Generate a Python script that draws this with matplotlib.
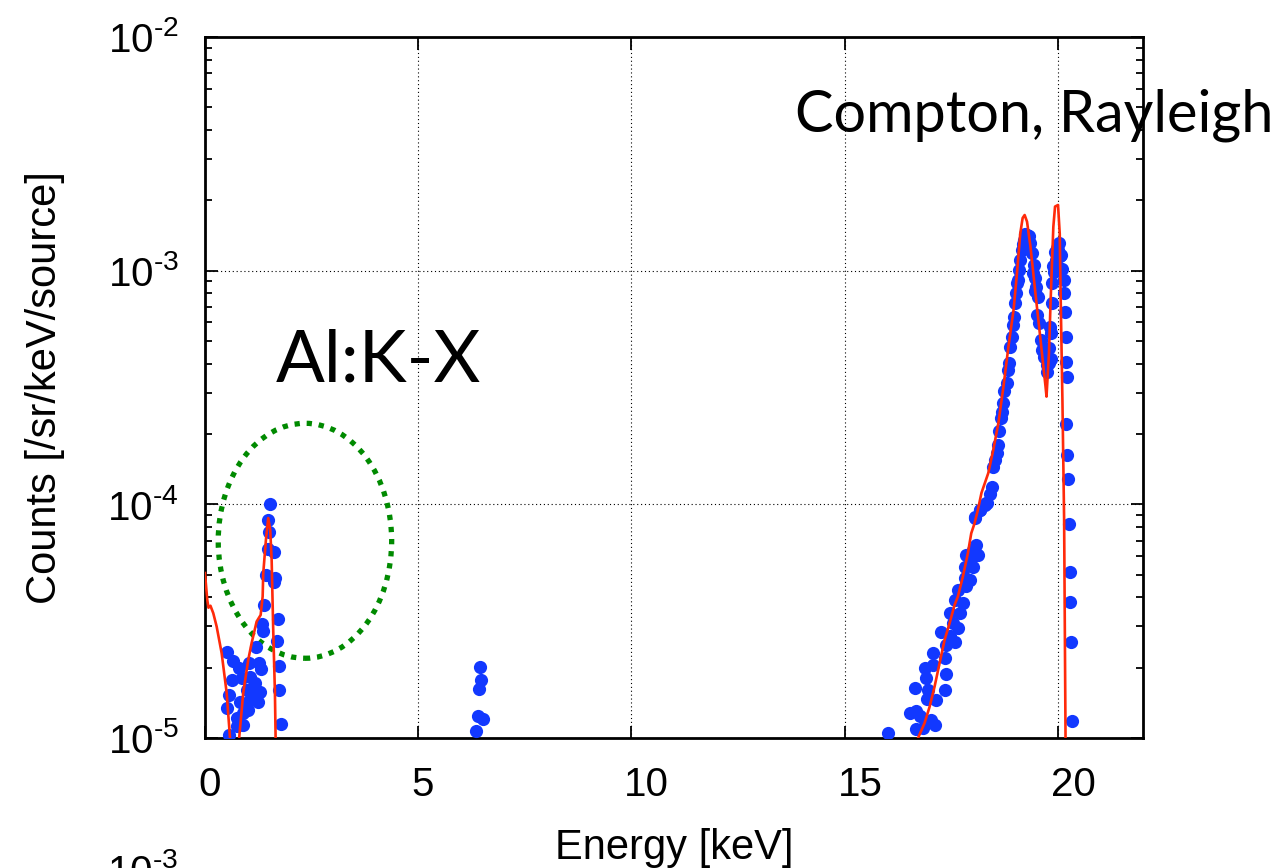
import numpy as np
import matplotlib
matplotlib.use('Agg')
import matplotlib.pyplot as plt
from matplotlib.patches import Ellipse
from matplotlib.transforms import ScaledTranslation

plt.rcParams['font.family'] = ['Liberation Sans', 'DejaVu Sans']
plt.rcParams['mathtext.fontset'] = 'custom'
plt.rcParams['mathtext.rm'] = 'Liberation Sans'
plt.rcParams['mathtext.it'] = 'Liberation Sans'
plt.rcParams['mathtext.default'] = 'regular'

# measured spectrum (blue points)
energy_pts = [
    1.524, 1.484, 1.500, 1.470, 1.617, 1.423, 1.641, 1.617, 1.390, 1.704,
    1.336, 1.367, 1.681, 1.188, 0.509, 0.663, 0.804, 1.038, 1.273, 1.306,
    1.735, 0.640, 0.860, 1.055, 1.172, 1.742, 0.570, 0.977, 1.212, 1.289,
    0.523, 0.820, 1.055, 1.249, 0.898, 1.015, 0.743, 0.898, 0.570, 0.743,
    1.782,
    6.446, 6.470, 6.430, 6.406, 6.524, 6.353,
    16.03, 16.526, 16.683, 16.760, 16.683, 16.838, 17.112, 17.035, 16.660,
    16.955, 16.931, 17.152, 17.347, 16.878, 16.917, 17.072, 17.386, 17.072,
    17.347, 17.269, 17.464, 17.658, 17.386, 17.581, 17.464, 17.698, 17.541,
    17.581, 17.776, 17.658, 17.855, 17.815, 17.932, 17.815, 18.010, 17.932,
    17.855, 18.090, 18.010, 18.127, 18.050, 18.167, 18.284, 18.324, 18.055,
    18.172, 18.331,
    18.411, 18.448, 18.488, 18.528, 18.568, 18.607, 18.631, 18.664, 18.687,
    18.727, 18.751, 18.804, 18.844, 18.868, 18.884, 18.924, 18.947, 18.964,
    19.004, 19.027, 19.044, 19.058, 19.081, 19.121, 19.161, 19.201, 19.240,
    19.280, 19.320, 19.360, 19.398, 19.438, 19.477, 19.501, 19.534, 19.517,
    19.557, 19.597, 19.637, 19.674, 19.737, 19.794, 19.794, 19.834, 19.817,
    19.857, 19.873, 19.913, 19.953, 19.991, 20.030, 20.070, 20.110, 20.150,
    20.150, 20.166, 20.190, 20.190, 20.213, 20.200, 20.213, 20.237, 20.253,
    20.277, 20.293, 20.316, 20.340,
    19.180, 19.260, 19.300, 19.420, 19.460, 19.880, 19.930, 20.010, 20.060,
    19.760, 19.840,
]
counts_pts = [
    1.00e-4, 8.57e-5, 7.64e-5, 6.43e-5, 6.28e-5, 4.99e-5, 4.83e-5, 4.67e-5, 3.69e-5, 3.22e-5,
    3.08e-5, 2.88e-5, 2.61e-5, 2.45e-5, 2.34e-5, 2.14e-5, 2.00e-5, 2.09e-5, 2.09e-5, 1.97e-5,
    2.04e-5, 1.77e-5, 1.80e-5, 1.83e-5, 1.72e-5, 1.61e-5, 1.53e-5, 1.61e-5, 1.56e-5, 1.58e-5,
    1.35e-5, 1.43e-5, 1.46e-5, 1.43e-5, 1.28e-5, 1.32e-5, 1.22e-5, 1.14e-5, 1.03e-5, 1.12e-5,
    1.15e-5,
    2.02e-5, 1.77e-5, 1.62e-5, 1.24e-5, 1.21e-5, 1.07e-5,
    1.05e-5, 1.28e-5, 1.30e-5, 1.24e-5, 1.09e-5, 1.10e-5, 1.14e-5, 1.19e-5, 1.63e-5,
    1.61e-5, 1.47e-5, 1.46e-5, 1.61e-5, 1.99e-5, 1.80e-5, 2.06e-5, 1.88e-5, 2.31e-5,
    2.20e-5, 2.85e-5, 2.72e-5, 2.95e-5, 2.50e-5, 2.58e-5, 3.42e-5, 3.42e-5, 3.10e-5,
    3.90e-5, 3.78e-5, 4.31e-5, 4.45e-5, 4.83e-5, 4.75e-5, 5.41e-5, 5.41e-5, 5.78e-5,
    6.07e-5, 6.70e-5, 6.38e-5, 6.07e-5, 8.73e-5, 9.47e-5, 9.93e-5, 1.01e-4, 8.85e-5,
    9.46e-5, 1.01e-4,
    1.11e-4, 1.19e-4, 1.45e-4, 1.55e-4, 1.65e-4, 1.80e-4, 2.05e-4, 2.34e-4, 2.49e-4,
    2.71e-4, 3.04e-4, 3.30e-4, 3.76e-4, 4.02e-4, 4.73e-4, 5.22e-4, 5.86e-4, 6.36e-4,
    7.25e-4, 8.00e-4, 8.83e-4, 9.12e-4, 1.01e-3, 1.11e-3, 1.23e-3, 1.35e-3, 1.44e-3,
    1.42e-3, 1.40e-3, 1.31e-3, 1.19e-3, 1.06e-3, 9.27e-4, 8.55e-4, 7.74e-4, 6.46e-4,
    5.95e-4, 5.05e-4, 4.58e-4, 4.29e-4, 3.95e-4, 4.02e-4, 4.66e-4, 5.40e-4, 5.76e-4,
    7.26e-4, 8.83e-4, 9.91e-4, 1.11e-3, 1.25e-3, 1.31e-3, 1.17e-3, 1.02e-3, 9.12e-4,
    8.00e-4, 6.68e-4, 5.22e-4, 4.08e-4, 3.52e-4, 2.21e-4, 1.62e-4, 1.28e-4, 8.26e-5,
    5.13e-5, 3.80e-5, 2.58e-5, 1.18e-5,
    1.30e-3, 1.38e-3, 1.30e-3, 9.80e-4, 8.20e-4, 1.05e-3, 1.20e-3, 1.22e-3, 1.15e-3,
    3.70e-4, 4.20e-4,
]

# simulation (red line)
energy_sim = [
    0.0, 0.054, 0.082, 0.129, 0.195, 0.274, 0.391, 0.509, 0.586, 0.633,
    0.700, 0.774, 0.804, 0.898, 1.015, 1.095, 1.212, 1.306, 1.353, 1.367,
    1.430, 1.484, 1.531, 1.564, 1.601, 1.641, 1.657, 1.676, 16.67, 16.721,
    16.878, 16.995, 17.112, 17.229, 17.347, 17.464, 17.581, 17.658, 17.776,
    17.893, 17.972, 18.050, 18.127, 18.212, 18.371, 18.488, 18.607, 18.727,
    18.844, 18.964, 19.044, 19.121, 19.177, 19.224, 19.280, 19.360, 19.477,
    19.597, 19.714, 19.737, 19.794, 19.834, 19.897, 19.937, 20.007, 20.047,
    20.070, 20.110, 20.150, 20.183, 20.210,
]
counts_sim = [
    5.08e-5, 3.90e-5, 3.61e-5, 3.68e-5, 3.42e-5, 3.00e-5, 2.31e-5, 1.56e-5, 1.01e-5, 8.0e-6,
    6.0e-6, 8.0e-6, 1.01e-5, 1.56e-5, 2.16e-5, 2.55e-5, 3.15e-5, 3.36e-5, 4.03e-5, 5.07e-5,
    7.05e-5, 8.73e-5, 7.76e-5, 5.78e-5, 2.90e-5, 1.56e-5, 1.00e-5, 7.0e-6, 7.0e-6, 9.97e-6,
    1.16e-5, 1.36e-5, 1.66e-5, 2.09e-5, 2.63e-5, 3.10e-5, 3.71e-5, 4.03e-5, 4.91e-5,
    6.18e-5, 7.52e-5, 8.30e-5, 9.46e-5, 1.12e-4, 1.36e-4, 1.71e-4, 2.22e-4, 3.19e-4,
    4.73e-4, 6.79e-4, 9.75e-4, 1.44e-3, 1.68e-3, 1.73e-3, 1.62e-3, 1.27e-3, 8.00e-4,
    5.05e-4, 3.19e-4, 2.89e-4, 4.43e-4, 7.50e-4, 1.54e-3, 1.88e-3, 1.91e-3, 1.44e-3,
    7.50e-4, 2.80e-4, 8.57e-5, 1.00e-5, 6.0e-6,
]

xticks = [0, 5, 10, 15, 20]
yticks = [1e-5, 1e-4, 1e-3, 1e-2]
ytick_labels = ['$10^{\u2010%d}$' % k for k in (5, 4, 3, 2)]

fig = plt.figure(figsize=(12.85, 8.68), dpi=100)
ax = fig.add_axes([0.1595, 0.1498, 0.730, 0.8076])

ax.plot(energy_pts, counts_pts, 'o', color='#1238ff', ms=9.5, mec='none', zorder=3)
ax.plot(energy_sim, counts_sim, '-', color='#ff2a0a', lw=1.9, zorder=4)

ax.set_yscale('log')
ax.set_xlim(0, 22)
ax.set_ylim(1e-5, 1e-2)

ax.set_xticks(xticks)
ax.set_xticklabels([str(t) for t in xticks])
ax.set_yticks(yticks)
ax.set_yticklabels(ytick_labels)
ax.yaxis.set_minor_locator(matplotlib.ticker.LogLocator(base=10, subs=np.arange(2, 10)))
ax.yaxis.set_minor_formatter(matplotlib.ticker.NullFormatter())

ax.tick_params(which='both', direction='in', top=True, right=True, width=1.3)
ax.tick_params(which='major', length=9, labelsize=29)
ax.tick_params(which='minor', length=5)
ax.tick_params(axis='y', pad=19)
ax.tick_params(axis='x', pad=20)
for sp in ax.spines.values():
    sp.set_linewidth(2.0)

ax.grid(True, which='major', color='black', linestyle=(0, (1, 2.5)), linewidth=0.8)

shift = ScaledTranslation(-7 / 100, 0, fig.dpi_scale_trans)
for lab in ax.get_xticklabels():
    lab.set_horizontalalignment('left')
    lab.set_transform(lab.get_transform() + shift)

# green dotted marker around the Al line
ell = Ellipse((0.1066, 0.2813), 0.1849, 0.3352, transform=ax.transAxes,
              fill=False, edgecolor='#008a00', linewidth=3.8,
              linestyle=(0, (1, 1.3)), zorder=2)
ax.add_patch(ell)

fig.text(45 / 1285, 0.554, 'Counts [/sr/keV/source]', rotation=90,
         ha='center', va='center', fontsize=30)
fig.text(0.5245, 1 - 848 / 868, 'Energy [keV]', ha='center', va='center', fontsize=30)

fig.text(795 / 1285, 1 - 131 / 868, 'Compton, Rayleigh', family=['Lato', 'DejaVu Sans'],
         fontsize=41.5, ha='left', va='baseline')
fig.text(276 / 1285, 1 - 382 / 868, 'Al:K-X', family=['Lato', 'DejaVu Sans'],
         fontsize=52, ha='left', va='baseline')

# top of the next panel, cut by the figure edge
fig.text(178 / 1285, 1 - 884 / 868, '$10^{\u20103}$', ha='right', va='baseline', fontsize=29)

fig.savefig('out.png', dpi=100)
